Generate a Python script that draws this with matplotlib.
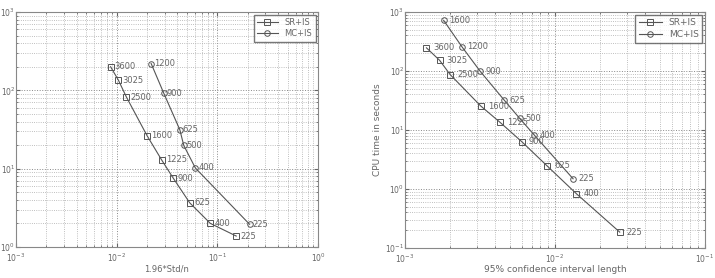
import matplotlib
matplotlib.use("Agg")
import matplotlib.pyplot as plt
from matplotlib.ticker import LogLocator, NullFormatter

# Left panel data
left_sr_x = [0.0087, 0.0104, 0.0125, 0.020, 0.0279, 0.0364, 0.0532, 0.0853, 0.154]
left_sr_y = [200, 135, 82, 26.5, 13, 7.6, 3.66, 2.0, 1.38]
left_sr_lab = ["3600", "3025", "2500", "1600", "1225", "900", "625", "400", "225"]
left_mc_x = [0.022, 0.0294, 0.0424, 0.0464, 0.0605, 0.209]
left_mc_y = [220, 91.6, 31.4, 19.8, 10.2, 1.95]
left_mc_lab = ["1200", "900", "625", "500", "400", "225"]

# Right panel data
right_sr_x = [0.00139, 0.0017, 0.0020, 0.0032, 0.0043, 0.0060, 0.00885, 0.0139, 0.027]
right_sr_y = [247, 152, 87, 25.5, 13.5, 6.35, 2.47, 0.83, 0.186]
right_sr_lab = ["3600", "3025", "2500", "1600", "1225", "900", "625", "400", "225"]
right_mc_x = [0.00181, 0.0024, 0.00317, 0.00459, 0.00582, 0.00728, 0.0132]
right_mc_y = [722, 256, 99, 32, 15.7, 8.2, 1.49]
right_mc_lab = ["1600", "1200", "900", "625", "500", "400", "225"]

series_names = ["SR+IS", "MC+IS"]

fig = plt.figure(figsize=(7.15, 2.78), dpi=100)
lc = "#555555"
tc = "#666666"
fs = 6

def setup(ax, xlim, ylim):
    ax.set_xscale("log")
    ax.set_yscale("log")
    ax.set_xlim(*xlim)
    ax.set_ylim(*ylim)
    ax.xaxis.set_major_locator(LogLocator(base=10, numticks=10))
    ax.yaxis.set_major_locator(LogLocator(base=10, numticks=10))
    ax.xaxis.set_minor_locator(LogLocator(base=10, subs=range(2, 10), numticks=20))
    ax.yaxis.set_minor_locator(LogLocator(base=10, subs=range(2, 10), numticks=20))
    ax.xaxis.set_minor_formatter(NullFormatter())
    ax.yaxis.set_minor_formatter(NullFormatter())
    ax.grid(True, which="major", linestyle=":", color="#888888", linewidth=0.7)
    ax.grid(True, which="minor", linestyle=":", color="#aaaaaa", linewidth=0.6)
    ax.tick_params(which="both", direction="in", labelsize=5.5, colors=tc,
                   top=True, right=True, pad=1.5)
    ax.tick_params(axis="x", which="both", pad=3)
    ax.tick_params(axis="y", which="both", pad=0.5)
    ax.tick_params(which="major", length=3)
    ax.tick_params(which="minor", length=1.5)
    for s in ax.spines.values():
        s.set_color("#888888")
        s.set_linewidth(0.8)

def draw(ax, x, y, labs, marker, name, dx):
    ax.plot(x, y, color=lc, linewidth=0.8, marker=marker, markersize=4,
            markerfacecolor="none", markeredgecolor=lc, markeredgewidth=0.7, label=name)
    for xi, yi, t in zip(x, y, labs):
        ax.annotate(t, (xi, yi), xytext=(dx, 0), textcoords="offset points",
                    fontsize=fs, color=tc, va="center", ha="left")

ax1 = fig.add_axes([16/715, 1-247/278, 302/715, 235/278])
setup(ax1, (1e-3, 1e0), (1e0, 1e3))
draw(ax1, left_sr_x, left_sr_y, left_sr_lab, "s", series_names[0], 3)
draw(ax1, left_mc_x, left_mc_y, left_mc_lab, "o", series_names[1], 2)
ax1.set_xlabel("1.96*Std/n", fontsize=fs, color=tc, labelpad=0.5)
leg1 = ax1.legend(loc="upper right", fontsize=fs, frameon=True, fancybox=False,
                  edgecolor="#555555", borderpad=0.4, handlelength=2.5, numpoints=1,
                  labelspacing=0.3, borderaxespad=0.3)
for t in leg1.get_texts():
    t.set_color(tc)

ax2 = fig.add_axes([405/715, 1-248/278, 300/715, 236/278])
setup(ax2, (1e-3, 1e-1), (1e-1, 1e3))
draw(ax2, right_sr_x, right_sr_y, right_sr_lab, "s", series_names[0], 5)
draw(ax2, right_mc_x, right_mc_y, right_mc_lab, "o", series_names[1], 4)
ax2.set_xlabel("95% confidence interval length", fontsize=fs+0.5, color=tc, labelpad=0.5)
ax2.set_ylabel("CPU time in seconds", fontsize=fs+0.5, color=tc, labelpad=2)
leg2 = ax2.legend(loc="upper right", fontsize=fs+0.5, frameon=True, fancybox=False,
                  edgecolor="#555555", borderpad=0.4, handlelength=2.5, numpoints=1,
                  labelspacing=0.3, borderaxespad=0.3)
for t in leg2.get_texts():
    t.set_color(tc)

fig.savefig("out.png", dpi=100)
